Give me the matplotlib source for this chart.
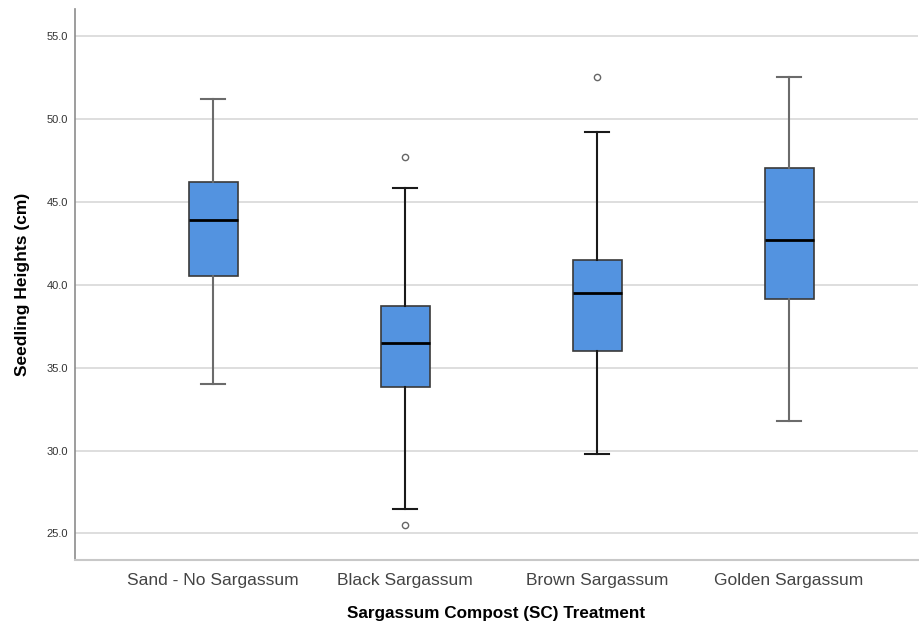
import matplotlib.pyplot as plt

# seedling height summary per compost treatment (cm)
treatments = ["Sand - No Sargassum", "Black Sargassum", "Brown Sargassum", "Golden Sargassum"]
whisker_low = [34.0, 26.5, 29.8, 31.8]
q1 = [40.5, 33.8, 36.0, 39.15]
medians = [43.9, 36.45, 39.5, 42.7]
q3 = [46.2, 38.7, 41.5, 47.0]
whisker_high = [51.2, 45.8, 49.2, 52.5]
outliers = [[], [47.7, 25.5], [52.5], []]
whisker_colors = ["#6b6b6b", "#1a1a1a", "#1a1a1a", "#6b6b6b"]

plt.rcParams['font.family'] = ['Liberation Sans', 'DejaVu Sans']

fig = plt.figure(figsize=(9.19, 6.26), dpi=100)
ax = fig.add_axes([0.0816, 0.1054, 0.917, 0.880])

stats = []
for i, name in enumerate(treatments):
    stats.append({
        "label": name,
        "whislo": whisker_low[i],
        "q1": q1[i],
        "med": medians[i],
        "q3": q3[i],
        "whishi": whisker_high[i],
        "fliers": outliers[i],
    })

positions = list(range(len(treatments)))
bp = ax.bxp(stats, positions=positions, widths=0.255, patch_artist=True,
            showfliers=True, manage_ticks=False,
            boxprops=dict(facecolor="#5393e0", edgecolor="#3a3a3a", linewidth=1.2),
            medianprops=dict(color="#000000", linewidth=2),
            flierprops=dict(marker="o", markersize=4.5, markerfacecolor="white",
                            markeredgecolor="#666666", markeredgewidth=1))

for i, c in enumerate(whisker_colors):
    for w in bp["whiskers"][2 * i:2 * i + 2]:
        w.set_color(c)
        w.set_linewidth(1.5)
    for cap in bp["caps"][2 * i:2 * i + 2]:
        cap.set_color(c)
        cap.set_linewidth(1.5)

for cap in bp["caps"]:
    x0, x1 = cap.get_xdata()
    mid = (x0 + x1) / 2
    cap.set_xdata([mid - 0.0625, mid + 0.0625])

ax.set_xlim(-0.72, 3.67)
ax.set_ylim(23.4, 56.6)
ax.set_yticks([25, 30, 35, 40, 45, 50, 55])
ax.set_yticklabels(["25.0", "30.0", "35.0", "40.0", "45.0", "50.0", "55.0"],
                   fontsize=8, color="#333333")
ax.set_xticks(positions)
ax.set_xticklabels(treatments, fontsize=12.5, color="#444444")
ax.tick_params(axis="both", length=0)
ax.tick_params(axis="x", pad=9)
ax.tick_params(axis="y", pad=5)

ax.yaxis.grid(True, color="#d8d8d8", linewidth=1.2)
ax.set_axisbelow(True)
for side in ["top", "right"]:
    ax.spines[side].set_visible(False)
ax.spines["left"].set_color("#8c8c8c")
ax.spines["bottom"].set_color("#c8c8c8")
ax.spines["left"].set_linewidth(1.2)
ax.spines["bottom"].set_linewidth(1.5)

ax.set_xlabel("Sargassum Compost (SC) Treatment", fontsize=12.3, fontweight="bold",
              labelpad=13)
ax.set_ylabel("Seedling Heights (cm)", fontsize=12.5, fontweight="bold", labelpad=12)

fig.savefig("out.png", dpi=100)
